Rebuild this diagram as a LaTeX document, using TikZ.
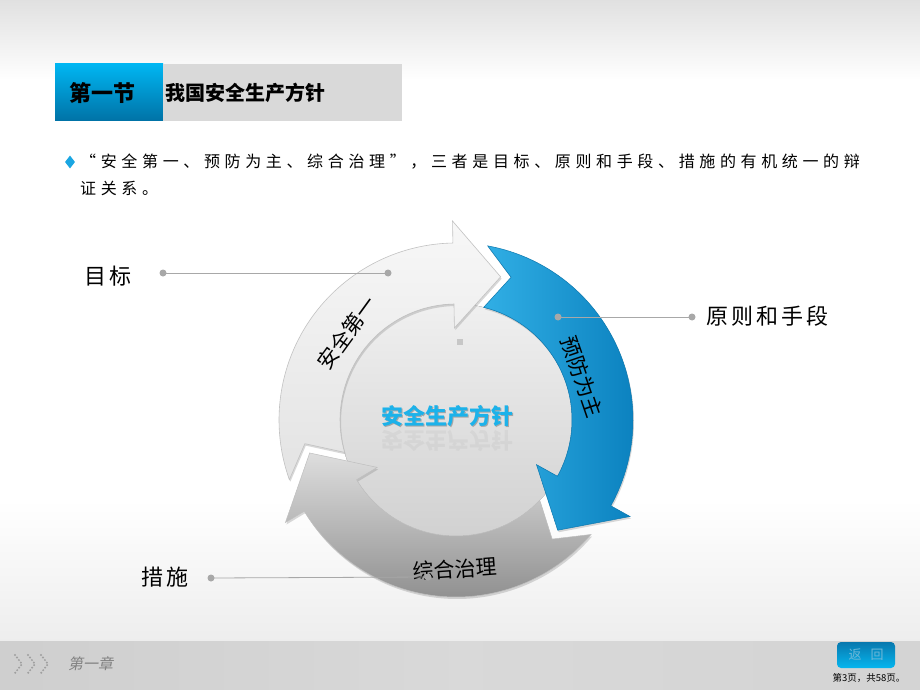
\documentclass[tikz,border=0pt]{standalone}
\usepackage{fontspec}
\setmainfont{Noto Sans CJK SC}
\newfontfamily\cjkspaced[LetterSpace=29]{Noto Sans CJK SC}
\newfontfamily\cjklabel[LetterSpace=14]{Noto Sans CJK SC}
\newfontfamily\cjkslant[FakeSlant=0.2]{Noto Sans CJK SC}
\usetikzlibrary{shadows,shapes.geometric}
\definecolor{secblueT}{HTML}{00B6F2}
\definecolor{secblueB}{HTML}{0072A6}
\definecolor{secgray}{HTML}{D9D9D9}
\definecolor{bulletblue}{HTML}{1AA6E2}
\definecolor{leadc}{HTML}{A8A8A8}
\definecolor{centerblue}{HTML}{1CB2EA}
\newcommand\ringarrow[2]{%
  \path[#2] ({#1+127}:177pt) arc[start angle={#1+127}, end angle={#1+18.3}, radius=177pt]
    -- ({#1+18.3}:199pt) -- (#1:150pt) -- ({#1+18.3}:92pt) -- ({#1+18.3}:116pt)
    arc[start angle={#1+18.3}, end angle={#1+123.5}, radius=116pt]
    -- ({#1+116.2}:153pt) -- cycle;}
\tikzset{
  leader/.style={draw=leadc, line width=0.8pt},
  leaddot/.style={fill=leadc},
  labeltext/.style={font=\cjklabel\fontsize{22}{24}\selectfont, anchor=west, inner sep=0pt},
  ringtext/.style={font=\fontsize{21}{23}\selectfont, inner sep=0pt},
  chev/.style={draw=gray!75, line width=2.2pt, line cap=round, dash pattern=on 0pt off 3.2pt},
  arrowshadow/.style={drop shadow={opacity=0.3, shadow xshift=1pt, shadow yshift=-2pt}}
}
\begin{document}
\begin{tikzpicture}[x=1pt, y=-1pt]
\useasboundingbox (0,0) rectangle (920,690);
% background
\fill[white] (0,0) rectangle (920,690);
\path[top color=black!12, bottom color=white] (0,0) rectangle (920,80);
\path[top color=white, bottom color=black!7] (0,500) rectangle (920,641);
\path[left color=black!19, right color=black!17, middle color=black!15] (0,641) rectangle (920,690);
% title
\path[top color=secblueT, bottom color=secblueB] (55,64) rectangle (163,121);
\path[fill=secgray] (163,64) rectangle (402,121);
\node[font=\bfseries\fontsize{22}{24}\selectfont, inner sep=0pt] (sec) at (102,93) {第一节};
\node[font=\bfseries\fontsize{20}{22}\selectfont, anchor=west, inner sep=0pt] (ttl) at (165,93) {我国安全生产方针};
% bullet text
\node[diamond, fill=bulletblue, minimum width=10pt, minimum height=13pt, inner sep=0pt] (bul) at (70,162) {};
\node[anchor=west, inner sep=0pt, font=\cjkspaced\fontsize{16}{18}\selectfont] (l1) at (80,162) {“安全第一、预防为主、综合治理”，三者是目标、原则和手段、措施的有机统一的辩};
\node[anchor=west, inner sep=0pt, font=\cjkspaced\fontsize{16}{18}\selectfont] (l2) at (80,188) {证关系。};
% cycle diagram
\begin{scope}[shift={(456pt,-420pt)}, x=1pt, y=1pt]
  \fill[top color=black!6, bottom color=black!18, draw=black!17] (0,0) circle[radius=116pt];
  \ringarrow{72.7}{top color=black!3, bottom color=black!11, draw=black!24, line width=0.6pt, arrowshadow}
  \ringarrow{-47.3}{left color=bulletblue!90!white, right color={rgb,255:red,10;green,128;blue,190}, draw={rgb,255:red,12;green,120;blue,175}, line width=0.5pt, arrowshadow}
  \ringarrow{192.7}{top color=black!13, bottom color=black!45, draw=black!25, line width=0.5pt, arrowshadow}
\end{scope}
\fill[black!22] (457,339) rectangle (463,345);
% center text with shadow & reflection
\node[font=\bfseries\fontsize{22}{24}\selectfont, text=black!35, inner sep=0pt] (ctrs) at (448.2,417.2) {安全生产方针};
\node[font=\bfseries\fontsize{22}{24}\selectfont, text=centerblue, inner sep=0pt] (ctr) at (447,416) {安全生产方针};
\node[font=\bfseries\fontsize{22}{24}\selectfont, text=black!60, opacity=0.07, inner sep=0pt, transform shape, yscale=-1] (ctrr) at (447,441) {安全生产方针};
% ring texts
\node[ringtext, rotate=54] (t1) at (347,333) {安全第一};
\node[ringtext, rotate=-71] (t2) at (582,377) {预防为主};
\node[ringtext, rotate=4] (t3) at (455,569) {综合治理};
% labels and leaders
\node[labeltext] (goal) at (84,276) {目标};
\node[labeltext] (prin) at (706,316) {原则和手段};
\node[labeltext] (meas) at (141,577) {措施};
\coordinate (gA) at (163,273);
\coordinate (gB) at (388,273);
\coordinate (pA) at (558,317);
\coordinate (pB) at (692,317);
\coordinate (mA) at (211,578);
\coordinate (mB) at (428,577);
\draw[leader] (gA) -- (gB);
\draw[leader] (pA) -- (pB);
\draw[leader] (mA) -- (mB);
\foreach \c in {gA,gB,pA,pB,mA,mB} \fill[leaddot] (\c) circle[radius=3.5pt];
% footer
\foreach \cx in {15,28,41} \draw[chev] (\cx,655) -- (\cx+7,664) -- (\cx,673);
\node[anchor=west, inner sep=0pt, font=\cjkslant\fontsize{15}{17}\selectfont, text=black!50] (chap) at (68,664) {第一章};
\node[rounded corners=4pt, top color={rgb,255:red,8;green,120;blue,174}, bottom color={rgb,255:red,5;green,182;blue,239}, minimum width=58pt, minimum height=26pt, inner sep=0pt, text={rgb,255:red,110;green,184;blue,216}, font=\fontsize{13}{15}\selectfont] (back) at (866,655) {返\hspace{9pt}回};
\node[inner sep=0pt, font=\fontsize{9.5}{11}\selectfont] (pg) at (869,677.5) {第3页，共58页。};
\end{tikzpicture}
\end{document}
